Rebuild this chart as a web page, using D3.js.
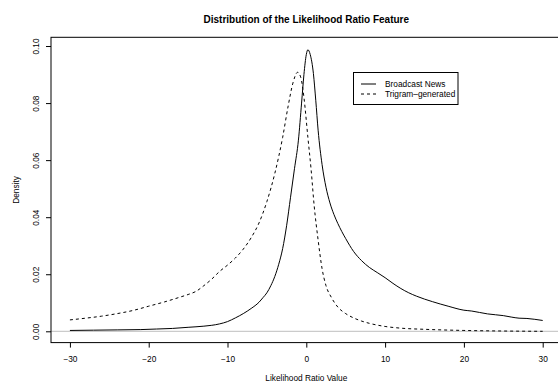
<!DOCTYPE html>
<html>
<head>
<meta charset="utf-8">
<script src="https://cdn.jsdelivr.net/npm/d3@7"></script>
<style>
  body { margin: 0; background: #fff; }
  svg { display: block; font-family: "Liberation Sans", Arial, Helvetica, sans-serif; }
</style>
</head>
<body>
<svg id="chart" width="558" height="384"></svg>
<script>
// Broadcast News density (solid)
var newsX = [-30, -27, -24, -21, -19, -17, -15, -13, -12, -11, -10, -9, -8, -7, -6, -5.5, -5, -4.5, -4, -3.5, -3, -2.5, -2, -1.5, -1, -0.6, -0.3, 0, 0.2, 0.5, 0.9, 1.2, 1.5, 2, 2.5, 3, 3.5, 4, 4.5, 5, 6, 7, 8, 9, 10, 11, 12, 13, 14, 16, 18, 20, 21, 22, 23, 24, 25, 26, 27, 28, 29, 30];
var newsY = [0.0003, 0.0004, 0.0005, 0.0006, 0.0008, 0.0010, 0.0014, 0.0018, 0.0021, 0.0026, 0.0034, 0.0047, 0.0062, 0.0080, 0.0102, 0.0118, 0.0135, 0.0160, 0.0192, 0.0235, 0.0290, 0.0370, 0.0470, 0.0570, 0.0670, 0.0800, 0.0900, 0.0970, 0.0987, 0.0970, 0.0904, 0.0810, 0.0705, 0.0585, 0.0505, 0.0450, 0.0410, 0.0378, 0.0350, 0.0325, 0.0280, 0.0248, 0.0224, 0.0206, 0.0188, 0.0168, 0.0150, 0.0135, 0.0123, 0.0104, 0.0088, 0.0074, 0.0071, 0.0066, 0.0061, 0.0058, 0.0055, 0.0050, 0.0046, 0.0045, 0.0042, 0.0038];

// Trigram-generated density (dashed)
var trigramX = [-30, -28, -26, -24, -22, -20, -18, -16, -15, -14, -13, -12, -11, -10, -9, -8, -7, -6, -5, -4, -3, -2.3, -1.7, -1.1, -0.7, -0.3, 0.2, 0.6, 1.0, 1.5, 2.0, 2.5, 3.2, 4, 5, 6, 7, 8, 10, 12, 15, 20, 25, 30];
var trigramY = [0.0040, 0.0046, 0.0053, 0.0062, 0.0073, 0.0088, 0.0103, 0.0120, 0.0129, 0.0140, 0.0160, 0.0183, 0.0210, 0.0232, 0.0257, 0.0288, 0.0328, 0.0380, 0.0455, 0.0553, 0.0680, 0.0790, 0.0870, 0.0908, 0.0890, 0.0820, 0.0680, 0.0570, 0.0440, 0.0320, 0.0220, 0.0160, 0.0118, 0.0085, 0.0062, 0.0047, 0.0036, 0.0028, 0.0017, 0.0011, 0.0007, 0.0003, 0.0001, 0.0000];

var xTicks = [-30, -20, -10, 0, 10, 20, 30];
var yTicks = [0.00, 0.02, 0.04, 0.06, 0.08, 0.10];
var seriesNames = ["Broadcast News", "Trigram\u2013generated"];

var svg = d3.select("#chart");
var margin = { left: 51, top: 37.3, right: -3.6, bottom: 41.4 };
var width = 558, height = 384;

var x = d3.scaleLinear().domain([-32.4, 32.4]).range([margin.left, width - margin.right]);
var y = d3.scaleLinear().domain([-0.00396, 0.10306]).range([height - margin.bottom, margin.top]);

var news = newsX.map(function (d, i) { return { x: d, y: newsY[i] }; });
var trigram = trigramX.map(function (d, i) { return { x: d, y: trigramY[i] }; });

// title
svg.append("text")
  .attr("x", (x.range()[0] + x.range()[1]) / 2)
  .attr("y", 23)
  .attr("text-anchor", "middle")
  .style("font-size", "10px")
  .style("font-weight", "bold")
  .text("Distribution of the Likelihood Ratio Feature");

// zero line
svg.append("line")
  .attr("x1", x.range()[0]).attr("x2", x.range()[1])
  .attr("y1", y(0)).attr("y2", y(0))
  .attr("stroke", "#bebebe").attr("stroke-width", 1);

var line = d3.line()
  .x(function (d) { return x(d.x); })
  .y(function (d) { return y(d.y); })
  .curve(d3.curveMonotoneX);

svg.append("path").datum(news)
  .attr("d", line).attr("fill", "none")
  .attr("stroke", "#000").attr("stroke-width", 1);

svg.append("path").datum(trigram)
  .attr("d", line).attr("fill", "none")
  .attr("stroke", "#000").attr("stroke-width", 1)
  .attr("stroke-dasharray", "3,3");

// box
svg.append("rect")
  .attr("x", x.range()[0]).attr("y", y.range()[1])
  .attr("width", x.range()[1] - x.range()[0])
  .attr("height", y.range()[0] - y.range()[1])
  .attr("fill", "none").attr("stroke", "#000").attr("stroke-width", 1);

// x axis
var xAxis = svg.append("g")
  .attr("transform", "translate(0," + y.range()[0] + ")")
  .call(d3.axisBottom(x).tickValues(xTicks).tickSize(5).tickPadding(9)
    .tickFormat(function (d) { return d < 0 ? "\u2212" + Math.abs(d) : d; }));
xAxis.select(".domain").remove();
xAxis.selectAll("text").style("font-size", "8.3px").style("font-family", "Liberation Sans, Arial, sans-serif");

// y axis
var yAxis = svg.append("g")
  .attr("transform", "translate(" + x.range()[0] + ",0)")
  .call(d3.axisLeft(y).tickValues(yTicks).tickSize(5).tickFormat(d3.format(".2f")));
yAxis.select(".domain").remove();
yAxis.selectAll("text")
  .attr("x", null).attr("dy", null)
  .attr("transform", "translate(-12.5,0) rotate(-90)")
  .attr("text-anchor", "middle")
  .style("font-size", "8.3px")
  .style("font-family", "Liberation Sans, Arial, sans-serif");

// axis titles
svg.append("text")
  .attr("x", (x.range()[0] + x.range()[1]) / 2)
  .attr("y", 381)
  .attr("text-anchor", "middle")
  .style("font-size", "8.3px")
  .text("Likelihood Ratio Value");

svg.append("text")
  .attr("transform", "translate(18.5," + (y.range()[0] + y.range()[1]) / 2 + ") rotate(-90)")
  .attr("text-anchor", "middle")
  .style("font-size", "8.3px")
  .text("Density");

// legend
var legend = svg.append("g").attr("transform", "translate(353.5,72.5)");
legend.append("rect")
  .attr("width", 104.5).attr("height", 32)
  .attr("fill", "#fff").attr("stroke", "#000").attr("stroke-width", 1);
seriesNames.forEach(function (name, i) {
  var cy = 11.5 + i * 10;
  legend.append("line")
    .attr("x1", 7.5).attr("x2", 22.5).attr("y1", cy).attr("y2", cy)
    .attr("stroke", "#000").attr("stroke-width", 1)
    .attr("stroke-dasharray", i === 1 ? "3,3" : null);
  legend.append("text")
    .attr("x", 31.5).attr("y", cy + 3)
    .style("font-size", "8.3px")
    .text(name);
});
</script>
</body>
</html>
